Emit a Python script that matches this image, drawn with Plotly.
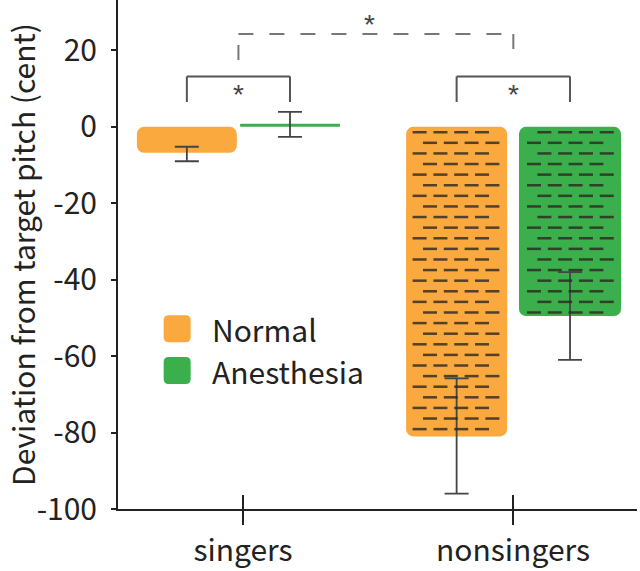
import numpy as np
import plotly.graph_objects as go

# ---------------- data ----------------
groups = ["singers", "nonsingers"]
normal = [-6.8, -81.0]
normal_err_plus = [1.6, 15.2]
normal_err_minus = [2.2, 15.0]
anesthesia = [0.8, -49.5]
anes_err_plus = [3.1, 11.5]
anes_err_minus = [3.4, 11.5]
series_names = ["Normal", "Anesthesia"]
hatched = [False, True]          # which group is drawn with the dash texture
y_ticks = [20, 0, -20, -40, -60, -80, -100]
y_tick_labels = ["20", "0", "-20", "-40", "-60", "-80", "-100"]
sig_label = "*"

# ---------------- style ----------------
ORANGE = "#FAA93F"
GREEN = "#3AAF4B"
INK = "#222222"
FONT = "Noto Sans CJK SC, Noto Sans, sans-serif"
xpos = [0, 1]
normal_off = [-0.393, -0.396]
normal_w = [0.37, 0.374]
anes_off = [-0.011, 0.022]
anes_w = [0.37, 0.378]
Y_RANGE = [-100, 33.2]
X_RANGE = [-0.463, 1.459]

fig = go.Figure()

# Each bar is drawn as two overlapping parts so that both of its ends get rounded corners
for name, vals, offs, ws, col, ep, em in [
        (series_names[0], normal, normal_off, normal_w, ORANGE, normal_err_plus, normal_err_minus),
        (series_names[1], anesthesia, anes_off, anes_w, GREEN, anes_err_plus, anes_err_minus)]:
    v = np.array(vals, dtype=float)
    # part touching zero (rounded at the zero end)
    fig.add_trace(go.Bar(
        x=xpos, y=-v * 0.75, base=v * 0.75, name=name, offset=offs, width=ws,
        marker=dict(color=col, cornerradius=7, line=dict(width=0)),
        hoverinfo="skip", showlegend=False))
    # part at the value end (rounded there), carries the error bars
    fig.add_trace(go.Bar(
        x=xpos, y=v * 0.75, base=v * 0.25, name=name, offset=offs, width=ws,
        marker=dict(color=col, cornerradius=7, line=dict(width=0)),
        error_y=dict(type="data", array=ep, arrayminus=em,
                     color="#444", thickness=1.8, width=12),
        showlegend=False))

# dash texture (global grid, like a tiled pattern) inside hatched bars
DX = 0.077          # horizontal period in category units
DY = 2.775          # vertical period in value units
X0 = -0.347         # phase
Y0 = -1.4
HALF = 0.018
for vals, offs, ws in [(normal, normal_off, normal_w), (anesthesia, anes_off, anes_w)]:
    dx_list, dy_list = [], []
    for i, v in enumerate(vals):
        if not hatched[i]:
            continue
        left = xpos[i] + offs[i]
        right = left + ws[i]
        r = 0
        yv = Y0
        while yv > v + 0.8:
            shift = 0 if r % 2 == 0 else DX / 2
            k0 = int(np.floor((left - X0 - shift) / DX)) - 1
            k1 = int(np.ceil((right - X0 - shift) / DX)) + 1
            for k in range(k0, k1 + 1):
                cx = X0 + shift + k * DX
                if left + HALF <= cx <= right - HALF:
                    dx_list.append(cx)
                    dy_list.append(yv)
            r += 1
            yv = Y0 - r * DY
    fig.add_trace(go.Scatter(
        x=dx_list, y=dy_list, mode="markers", hoverinfo="skip", showlegend=False,
        marker=dict(symbol="line-ew", size=10,
                    line=dict(width=2.5, color="rgba(45,40,35,0.82)"))))

# ---------------- significance brackets ----------------
shapes = []
def center(offs, ws, i):
    return xpos[i] + offs[i] + ws[i] / 2

mids = []
for i in range(2):
    a = center(normal_off, normal_w, i)
    b = center(anes_off, anes_w, i)
    top, leg = 13.2, 6.5
    shapes += [
        dict(type="line", x0=a, x1=a, y0=leg, y1=top, line=dict(color="#555", width=2)),
        dict(type="line", x0=a, x1=b, y0=top, y1=top, line=dict(color="#555", width=2)),
        dict(type="line", x0=b, x1=b, y0=top, y1=leg, line=dict(color="#555", width=2)),
    ]
    mids.append((a + b) / 2)

dash_line = dict(color="#777", width=2, dash="15px,16px")
shapes += [
    dict(type="line", x0=mids[0], x1=mids[0], y0=17.5, y1=24.3, line=dash_line),
    dict(type="line", x0=mids[0], x1=mids[1], y0=24.3, y1=24.3, line=dash_line),
    dict(type="line", x0=mids[1], x1=mids[1], y0=24.3, y1=17.5, line=dash_line),
]

annotations = []
STAR_FONT = dict(size=28, color="#444", family="Liberation Sans")
for m in mids:
    annotations.append(dict(x=m, y=8.6, xref="x", yref="y", text=sig_label, showarrow=False,
                            font=STAR_FONT, yanchor="middle"))
annotations.append(dict(x=(mids[0] + mids[1]) / 2 - 0.025, y=26.8, xref="x", yref="y",
                        text=sig_label, showarrow=False, font=STAR_FONT, yanchor="middle"))

# ---------------- custom legend ----------------
sq = ("M-8.5,-13.5 L8.5,-13.5 Q13.5,-13.5 13.5,-8.5 L13.5,8.5 Q13.5,13.5 8.5,13.5 "
      "L-8.5,13.5 Q-13.5,13.5 -13.5,8.5 L-13.5,-8.5 Q-13.5,-13.5 -8.5,-13.5 Z")
leg_y = [0.354, 0.272]
for name, col, ly in zip(series_names, [ORANGE, GREEN], leg_y):
    shapes.append(dict(type="path", xref="paper", yref="paper", xsizemode="pixel",
                       ysizemode="pixel", xanchor=0.114, yanchor=ly, path=sq,
                       fillcolor=col, line=dict(width=0)))
    annotations.append(dict(x=0.178, y=ly, xref="paper", yref="paper", text=name,
                            showarrow=False, xanchor="left", yanchor="middle",
                            font=dict(size=30, color=INK, family=FONT)))

fig.update_layout(
    width=640, height=571,
    margin=dict(l=118, r=3, t=0, b=62),
    paper_bgcolor="white", plot_bgcolor="white",
    font=dict(family=FONT, color=INK, size=30),
    barmode="overlay",
    shapes=shapes, annotations=annotations,
    showlegend=False,
    xaxis=dict(range=X_RANGE, tickvals=xpos, ticktext=groups, showgrid=False,
               zeroline=False, showline=True, linecolor=INK, linewidth=2,
               ticks="outside", ticklen=14, tickwidth=2, tickcolor=INK,
               tickfont=dict(size=30), automargin=False, fixedrange=True),
    xaxis2=dict(range=X_RANGE, tickvals=xpos, overlaying="x", anchor="y", side="bottom",
                showgrid=False, zeroline=False, showline=False, showticklabels=False,
                ticks="inside", ticklen=14, tickwidth=2, tickcolor=INK, automargin=False),
    yaxis=dict(range=Y_RANGE, tickvals=y_ticks, ticktext=y_tick_labels, showgrid=False,
               zeroline=False, automargin=False,
               showline=True, linecolor=INK, linewidth=2, ticks="outside", ticklen=5,
               tickwidth=1.5, tickcolor=INK, tickfont=dict(size=30),
               ticklabelstandoff=8,
               title=dict(text="Deviation from target pitch (cent)", font=dict(size=30),
                          standoff=3)),
)
# dummy trace so xaxis2 is drawn
fig.add_trace(go.Scatter(x=[None], y=[None], xaxis="x2", showlegend=False, hoverinfo="skip"))

fig.write_html("out.html", config={"displayModeBar": False},
               post_script="document.body.style.margin='0';document.body.style.overflow='hidden';")
